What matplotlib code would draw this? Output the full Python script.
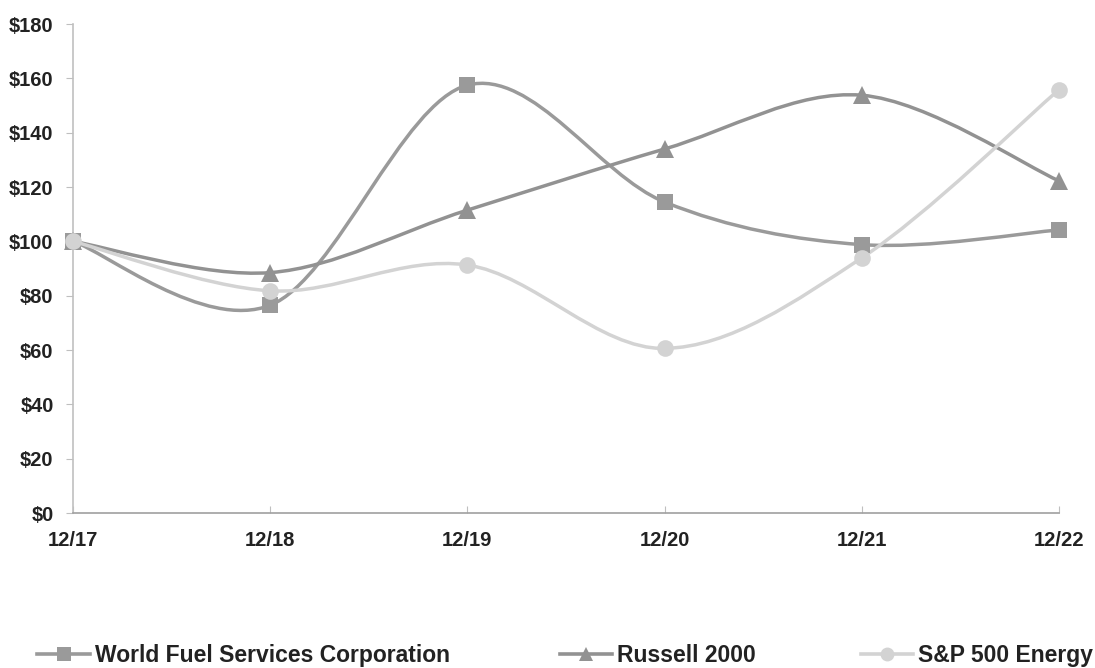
import numpy as np
import matplotlib.pyplot as plt
from matplotlib.path import Path
from matplotlib.patches import PathPatch
from matplotlib.lines import Line2D

plt.rcParams['font.family'] = ['Liberation Sans', 'DejaVu Sans']
plt.rcParams['font.weight'] = 'bold'

years = ['12/17', '12/18', '12/19', '12/20', '12/21', '12/22']
world_fuel = [100, 76.5, 157.5, 114.5, 98.8, 104.2]
russell = [100, 88.5, 111.5, 134, 153.8, 122.3]
sp_energy = [100, 81.8, 91.3, 60.6, 93.9, 155.8]
yticks = [0, 20, 40, 60, 80, 100, 120, 140, 160, 180]

series = [
    ('World Fuel Services Corporation', world_fuel, '#9a9a9a', 's'),
    ('Russell 2000', russell, '#929292', '^'),
    ('S&P 500 Energy', sp_energy, '#d3d3d3', 'o'),
]


def smooth_path(x, y):
    # bezier segments like excel's smoothed line
    pts = np.column_stack([x, y]).astype(float)
    n = len(pts)
    verts = [pts[0]]
    codes = [Path.MOVETO]
    for i in range(n - 1):
        p0 = pts[max(i - 1, 0)]
        p1 = pts[i]
        p2 = pts[i + 1]
        p3 = pts[min(i + 2, n - 1)]
        c1 = p1 + (p2 - p0) / 6
        c2 = p2 - (p3 - p1) / 6
        verts += [c1, c2, p2]
        codes += [Path.CURVE4] * 3
    return Path(verts, codes)


fig = plt.figure(figsize=(10.95, 6.68), dpi=100)
ax = fig.add_axes([0.0667, 0.232, 0.9003, 0.732])

x = np.arange(len(years))
for name, vals, col, mk in series:
    ax.add_patch(PathPatch(smooth_path(x, vals), facecolor='none', edgecolor=col,
                           lw=2.5, capstyle='round', zorder=2, clip_on=False))
    ms = 13 if mk == '^' else 12
    ax.plot(x, vals, linestyle='none', marker=mk, color=col, markersize=ms,
            markeredgewidth=0, zorder=3, clip_on=False)

ax.set_xlim(0, len(years) - 1)
ax.set_ylim(0, 180)
ax.set_yticks(yticks)
ax.set_yticklabels([f'${v}' for v in yticks], fontsize=14.5, fontweight='bold', color='#222222')
ax.set_xticks(x)
ax.set_xticklabels(years, fontsize=14.5, fontweight='bold', color='#222222')
ax.tick_params(axis='y', length=5, color='#bfbfbf', pad=9)
ax.tick_params(axis='x', direction='in', length=5, color='#bfbfbf', pad=13)
ax.spines['top'].set_visible(False)
ax.spines['right'].set_visible(False)
ax.spines['left'].set_color('#c0c0c0')
ax.spines['bottom'].set_color('#a0a0a0')
ax.spines['left'].set_linewidth(1.2)
ax.spines['bottom'].set_linewidth(1.2)

legend_x = [0.034, 0.511, 0.786]
for (name, vals, col, mk), lx in zip(series, legend_x):
    h = Line2D([0], [0], color=col, lw=2.6, marker=mk, markersize=10, markeredgewidth=0)
    fig.legend([h], [name], loc='center left', bbox_to_anchor=(lx, 0.0185),
               frameon=False, handlelength=2.3, handletextpad=0.2,
               prop={'size': 16.5, 'weight': 'bold'}, labelcolor='#222222',
               borderaxespad=0, borderpad=0)

fig.savefig('out.png', dpi=100)
